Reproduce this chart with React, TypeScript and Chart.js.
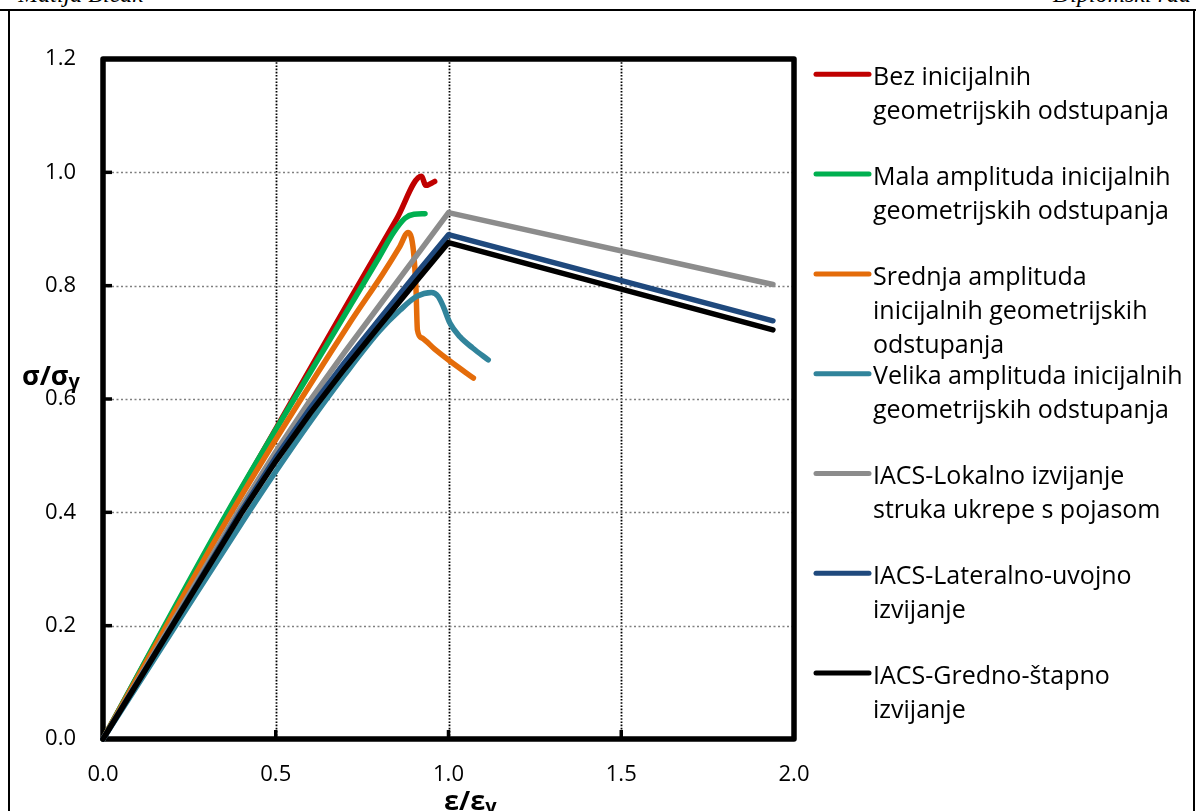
import React, { useEffect, useRef } from "react";
import { Chart, registerables } from "chart.js";

Chart.register(...registerables);

// ---------- data ----------
const xTickValues = [0, 0.5, 1.0, 1.5, 2.0];
const yTickValues = [0, 0.2, 0.4, 0.6, 0.8, 1.0, 1.2];

const bezX = [0, 0.362, 0.714, 0.85, 0.922, 0.934, 0.96];
const bezY = [0, 0.4, 0.775, 0.918, 0.993, 0.977, 0.984];

const malaX = [0, 0.36, 0.714, 0.8, 0.84, 0.874, 0.9, 0.932];
const malaY = [0, 0.4, 0.763, 0.851, 0.893, 0.919, 0.926, 0.927];

const srednjaX = [0, 0.372, 0.714, 0.811, 0.859, 0.883, 0.893, 0.9, 0.906, 0.91, 0.922, 0.96, 1.004, 1.072];
const srednjaY = [0, 0.4, 0.734, 0.822, 0.869, 0.894, 0.884, 0.852, 0.793, 0.722, 0.708, 0.688, 0.667, 0.637];

const velikaX = [0, 0.2, 0.4, 0.5, 0.6, 0.7, 0.8, 0.86, 0.908, 0.951, 0.97, 0.985, 1.004, 1.033, 1.07, 1.115];
const velikaY = [0, 0.19, 0.38, 0.472, 0.56, 0.643, 0.72, 0.757, 0.781, 0.788, 0.781, 0.763, 0.734, 0.71, 0.69, 0.669];

const lokalnoX = [0, 0.2, 0.4, 0.5, 0.6, 0.7, 0.8, 0.9, 1.0, 1.939];
const lokalnoY = [0, 0.205, 0.41, 0.507, 0.598, 0.683, 0.765, 0.847, 0.929, 0.802];

const lateralnoX = [0, 0.2, 0.4, 0.5, 0.6, 0.7, 0.8, 0.9, 1.0, 1.939];
const lateralnoY = [0, 0.2, 0.402, 0.497, 0.584, 0.665, 0.741, 0.816, 0.89, 0.738];

const grednoX = [0, 0.2, 0.4, 0.5, 0.6, 0.7, 0.8, 0.9, 1.0, 1.939];
const grednoY = [0, 0.199, 0.398, 0.49, 0.575, 0.654, 0.729, 0.803, 0.876, 0.722];

const legendLabels = [
  ["Bez inicijalnih", "geometrijskih odstupanja"],
  ["Mala amplituda inicijalnih", "geometrijskih odstupanja"],
  ["Srednja amplituda", "inicijalnih geometrijskih", "odstupanja"],
  ["Velika amplituda inicijalnih", "geometrijskih odstupanja"],
  ["IACS-Lokalno izvijanje", "struka ukrepe s pojasom"],
  ["IACS-Lateralno-uvojno", "izvijanje"],
  ["IACS-Gredno-štapno", "izvijanje"],
];

const seriesColors = ["#C00000", "#00B050", "#E46C0A", "#31849B", "#8C8C8C", "#1F497D", "#000000"];
const seriesX = [bezX, malaX, srednjaX, velikaX, lokalnoX, lateralnoX, grednoX];
const seriesY = [bezY, malaY, srednjaY, velikaY, lokalnoY, lateralnoY, grednoY];
const smoothSeries = [true, true, true, true, false, false, false];

const FONT = '"Open Sans", "Noto Sans", sans-serif';

const decorPlugin = {
  id: "decor",
  beforeDatasetsDraw(chart: any) {
    const { ctx, chartArea: a, scales } = chart;
    const xs = scales.x;
    const ys = scales.y;
    const xInner = xTickValues.filter((v) => v > xs.min && v < xs.max);
    const yInner = yTickValues.filter((v) => v > ys.min && v < ys.max);
    ctx.save();
    // vertical grid (black dotted)
    ctx.strokeStyle = "#000";
    ctx.lineWidth = 1.8;
    ctx.setLineDash([1.6, 1.6]);
    for (const v of xInner) {
      const px = Math.round(xs.getPixelForValue(v)) + 0.5;
      ctx.beginPath();
      ctx.moveTo(px, a.top);
      ctx.lineTo(px, a.bottom);
      ctx.stroke();
    }
    // horizontal grid (gray dotted)
    ctx.strokeStyle = "#7F7F7F";
    ctx.lineWidth = 1.4;
    ctx.setLineDash([2, 2.5]);
    for (const v of yInner) {
      const py = Math.round(ys.getPixelForValue(v)) + 0.5;
      ctx.beginPath();
      ctx.moveTo(a.left, py);
      ctx.lineTo(a.right, py);
      ctx.stroke();
    }
    ctx.setLineDash([]);
    // inner tick marks
    ctx.strokeStyle = "#000";
    ctx.lineWidth = 3.5;
    for (const v of xInner) {
      const px = xs.getPixelForValue(v);
      ctx.beginPath();
      ctx.moveTo(px, a.bottom);
      ctx.lineTo(px, a.bottom - 9);
      ctx.stroke();
    }
    for (const v of yInner) {
      const py = ys.getPixelForValue(v);
      ctx.beginPath();
      ctx.moveTo(a.left, py);
      ctx.lineTo(a.left + 9, py);
      ctx.stroke();
    }
    // plot frame
    ctx.lineWidth = 5.5;
    ctx.lineJoin = "round";
    ctx.strokeRect(a.left, a.top, a.right - a.left, a.bottom - a.top);
    ctx.restore();
  },
  afterDraw(chart: any) {
    const { ctx } = chart;
    ctx.save();
    // legend
    chart.data.datasets.forEach((ds: any, i: number) => {
      const ly = 74.3 + 99.8 * i;
      ctx.strokeStyle = ds.borderColor;
      ctx.lineWidth = 5;
      ctx.lineCap = "round";
      ctx.beginPath();
      ctx.moveTo(816, ly);
      ctx.lineTo(869, ly);
      ctx.stroke();
      ctx.fillStyle = "#000";
      ctx.font = `25px ${FONT}`;
      ctx.textBaseline = "alphabetic";
      ctx.textAlign = "left";
      legendLabels[i].forEach((t, j) => {
        ctx.fillText(t, 873, ly + 10.7 + 34 * j);
      });
    });
    // y title
    ctx.fillStyle = "#000";
    ctx.font = `bold 27px ${FONT}`;
    ctx.textAlign = "left";
    ctx.fillText("σ/σ", 22, 385);
    let w = ctx.measureText("σ/σ").width;
    ctx.font = `bold 20px ${FONT}`;
    ctx.fillText("γ", 22 + w, 388);
    // x title
    ctx.font = `bold 27px ${FONT}`;
    ctx.fillText("ε/ε", 444, 810);
    w = ctx.measureText("ε/ε").width;
    ctx.font = `bold 20px ${FONT}`;
    ctx.fillText("γ", 444 + w, 813);
    ctx.restore();
  },
};

export default function App() {
  const ref = useRef<HTMLCanvasElement>(null);
  useEffect(() => {
    if (!ref.current) return;
    const datasets = seriesX.map((xs, i) => ({
      label: legendLabels[i].join(" "),
      data: xs.map((x, k) => ({ x, y: seriesY[i][k] })),
      borderColor: seriesColors[i],
      backgroundColor: seriesColors[i],
      borderWidth: 5.5,
      pointRadius: 0,
      showLine: true,
      fill: false,
      clip: false as any,
      tension: 0,
      cubicInterpolationMode: smoothSeries[i] ? ("monotone" as const) : ("default" as const),
      borderCapStyle: "round" as const,
      borderJoinStyle: "round" as const,
      order: seriesX.length - i,
    }));
    const chart = new Chart(ref.current, {
      type: "scatter",
      data: { datasets },
      options: {
        animation: false,
        responsive: false,
        devicePixelRatio: 1,
        layout: { padding: { left: 0, top: 59, right: 402, bottom: 0 } },
        plugins: { legend: { display: false }, tooltip: { enabled: false } },
        scales: {
          x: {
            type: "linear",
            min: 0,
            max: 2,
            afterFit: (s: any) => {
              s.height = 72;
            },
            afterBuildTicks: (s: any) => {
              s.ticks = xTickValues.map((v) => ({ value: v }));
            },
            ticks: {
              callback: (v: any) => Number(v).toFixed(1),
              font: { family: FONT, size: 22 },
              color: "#000",
              padding: 15,
              maxRotation: 0,
            },
            grid: { display: false },
            border: { display: false },
          },
          y: {
            type: "linear",
            min: 0,
            max: 1.2,
            afterFit: (s: any) => {
              s.width = 103;
            },
            afterBuildTicks: (s: any) => {
              s.ticks = yTickValues.map((v) => ({ value: v }));
            },
            ticks: {
              callback: (v: any) => Number(v).toFixed(1),
              font: { family: FONT, size: 22 },
              color: "#000",
              padding: 19,
            },
            grid: { display: false },
            border: { display: false },
          },
        },
      },
      plugins: [decorPlugin],
    });
    return () => chart.destroy();
  }, []);

  return (
    <div
      style={{
        position: "fixed",
        left: 0,
        top: 0,
        width: 1196,
        height: 811,
        overflow: "hidden",
        background: "#fff",
      }}
    >
      <div
        style={{
          position: "absolute",
          right: 1196 - 143,
          top: -18,
          fontFamily: '"Liberation Serif", serif',
          fontStyle: "italic",
          fontSize: 24,
          lineHeight: "24px",
          whiteSpace: "nowrap",
        }}
      >
        Matija Bičak
      </div>
      <div
        style={{
          position: "absolute",
          left: 1053,
          top: -18,
          fontFamily: '"Liberation Serif", serif',
          fontStyle: "italic",
          fontSize: 24,
          lineHeight: "24px",
          whiteSpace: "nowrap",
        }}
      >
        Diplomski rad
      </div>
      <div style={{ position: "absolute", left: 0, top: 9, width: 1196, height: 2, background: "#000" }} />
      <div style={{ position: "absolute", left: 8, top: 10, width: 2, height: 801, background: "#000" }} />
      <div style={{ position: "absolute", left: 1193, top: 10, width: 2, height: 801, background: "#000" }} />
      <canvas
        ref={ref}
        width={1196}
        height={811}
        style={{ position: "absolute", left: 0, top: 0, width: 1196, height: 811 }}
      />
    </div>
  );
}
